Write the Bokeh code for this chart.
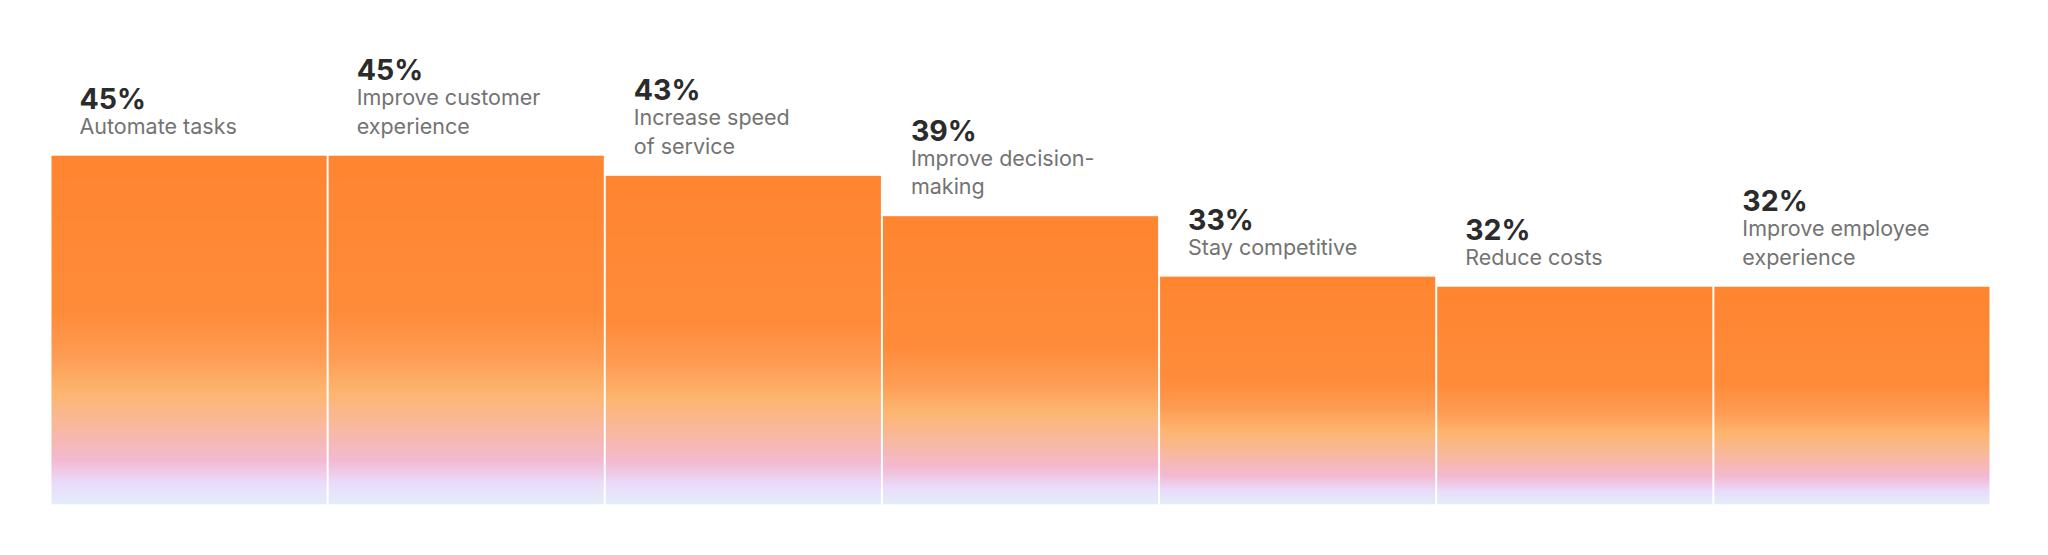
import numpy as np
from bokeh.plotting import figure
from bokeh.models import ColumnDataSource, Range1d
from bokeh.core.properties import value
from bokeh.embed import file_html
from bokeh.resources import INLINE

# ---- data ----
categories = ["Automate tasks", "Improve customer\nexperience", "Increase speed\nof service",
              "Improve decision-\nmaking", "Stay competitive", "Reduce costs",
              "Improve employee\nexperience"]
values = [45, 45, 43, 39, 33, 32, 32]
value_labels = ["45%", "45%", "43%", "39%", "33%", "32%", "32%"]

# gradient stops (fraction from bar top -> colour)
grad_pos = [0.0, 0.45, 0.58, 0.68, 0.78, 0.87, 0.94, 1.0]
grad_col = ["#FF8530", "#FF8B3A", "#FE9D55", "#FDB670", "#F8B8A0", "#F3B9D0", "#EADCFC", "#E3EEF8"]

BASE = 10.4
Y_END = 59.6

p = figure(width=2032, height=539, output_backend="svg", toolbar_location=None,
           x_range=Range1d(0, len(values)), y_range=Range1d(BASE, Y_END),
           min_border_left=50, min_border_right=42, min_border_top=8, min_border_bottom=35)
p.axis.visible = False
p.xgrid.visible = False
p.ygrid.visible = False
p.outline_line_color = None
p.background_fill_color = "white"
p.border_fill_color = "white"

def hex2rgb(h):
    h = h.lstrip("#")
    return np.array([int(h[i:i + 2], 16) for i in (0, 2, 4)], dtype=float)

stops_rgb = np.array([hex2rgb(c) for c in grad_col])

NROWS = 400
# fraction from top for each image row; image row 0 is at the bottom
fr = 1.0 - (np.arange(NROWS) + 0.5) / NROWS
img = np.zeros((NROWS, 1), dtype=np.uint32)
view = img.view(dtype=np.uint8).reshape((NROWS, 1, 4))
for k in range(3):
    view[:, 0, k] = np.round(np.interp(fr, grad_pos, stops_rgb[:, k])).astype(np.uint8)
view[:, 0, 3] = 255

gap = 0.0036
images = [img for _ in values]
xs = [i + gap for i in range(len(values))]
dws = [1 - 2 * gap for _ in values]
ys = [BASE for _ in values]
dhs = [v - BASE for v in values]
isrc = ColumnDataSource(dict(image=images, x=xs, y=ys, dw=dws, dh=dhs))
p.image_rgba(image="image", x="x", y="y", dw="dw", dh="dh", source=isrc)

# ---- labels ----
lx, ly, lt, lo = [], [], [], []
nx, ny, nt, no = [], [], [], []
LINE = 28.5
GAP_BOTTOM = 30
for i, (v, cat, vl) in enumerate(zip(values, categories, value_labels)):
    lines = cat.split("\n")
    n = len(lines)
    for j, line in enumerate(lines):
        lx.append(i)
        ly.append(v)
        lt.append(line)
        lo.append(-GAP_BOTTOM - (n - 1 - j) * LINE)
    nx.append(i)
    ny.append(v)
    nt.append(vl)
    no.append(-GAP_BOTTOM - (n - 1) * LINE - 27.5)

lsrc = ColumnDataSource(dict(x=lx, y=ly, text=lt, off=lo))
nsrc = ColumnDataSource(dict(x=nx, y=ny, text=nt, off=no))

p.text(x="x", y="y", text="text", source=lsrc, x_offset=29, y_offset="off",
       text_font=value("Inter"), text_font_size="21.5px", text_color="#737373",
       text_baseline="alphabetic", text_align="left")
p.text(x="x", y="y", text="text", source=nsrc, x_offset=29, y_offset="off",
       text_font=value("Inter"), text_font_size="28.5px", text_font_style="bold",
       text_color="#2b2b2b", text_baseline="alphabetic", text_align="left")

open("out.html", "w").write(file_html(p, INLINE))
